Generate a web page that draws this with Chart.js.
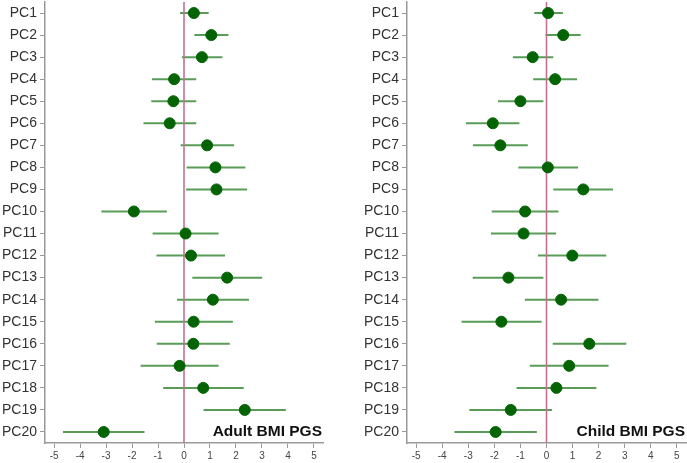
<!DOCTYPE html>
<html>
<head>
<meta charset="utf-8">
<script src="https://cdn.jsdelivr.net/npm/chart.js@4.4.1/dist/chart.umd.min.js"></script>
<style>
  body { margin: 0; background: #fff; }
  #wrap { position: relative; width: 687px; height: 463px; }
  .panel { position: absolute; top: 0; height: 463px; }
  #p1 { left: 0; width: 340px; }
  #p2 { left: 340px; width: 347px; }
</style>
</head>
<body>
<div id="wrap">
  <div class="panel" id="p1"><canvas id="adultChart"></canvas></div>
  <div class="panel" id="p2"><canvas id="childChart"></canvas></div>
</div>
<script>
// Categorías (componentes principales)
const pcs = ["PC1","PC2","PC3","PC4","PC5","PC6","PC7","PC8","PC9","PC10",
             "PC11","PC12","PC13","PC14","PC15","PC16","PC17","PC18","PC19","PC20"];
const xTicks = [-5,-4,-3,-2,-1,0,1,2,3,4,5];

// Adult BMI PGS: estimación e intervalo
const adultEst = [0.38,1.05,0.69,-0.38,-0.41,-0.55,0.89,1.21,1.25,-1.93,
                  0.06,0.27,1.66,1.11,0.37,0.36,-0.17,0.74,2.34,-3.09];
const adultLo  = [-0.15,0.40,-0.08,-1.23,-1.26,-1.56,-0.13,0.10,0.08,-3.18,
                  -1.21,-1.06,0.32,-0.27,-1.12,-1.05,-1.67,-0.80,0.75,-4.66];
const adultHi  = [0.95,1.71,1.48,0.47,0.47,0.47,1.93,2.36,2.43,-0.66,
                  1.33,1.58,3.01,2.50,1.88,1.76,1.33,2.30,3.92,-1.52];

// Child BMI PGS: estimación e intervalo
const childEst = [0.06,0.64,-0.53,0.33,-1.00,-2.06,-1.77,0.05,1.41,-0.82,
                  -0.88,0.99,-1.46,0.56,-1.73,1.64,0.87,0.38,-1.37,-1.95];
const childLo  = [-0.47,-0.04,-1.29,-0.51,-1.86,-3.09,-2.82,-1.08,0.26,-2.10,
                  -2.13,-0.33,-2.83,-0.83,-3.26,0.24,-0.64,-1.15,-2.96,-3.53];
const childHi  = [0.63,1.31,0.26,1.17,-0.12,-1.04,-0.72,1.21,2.55,0.46,
                  0.37,2.29,-0.12,1.99,-0.19,3.06,2.38,1.91,0.21,-0.37];

// Plugin: barras de error, línea en cero y título
const forestPlugin = {
    id: 'forest',
    beforeDatasetsDraw(chart, args, opts) {
        const ctx = chart.ctx;
        const x = chart.scales.x;
        const y = chart.scales.y;
        const area = chart.chartArea;
        ctx.save();
        // barras de error
        ctx.strokeStyle = 'rgba(70,145,70,0.9)';
        ctx.lineWidth = 2;
        opts.lo.forEach((lo, i) => {
            const py = y.getPixelForValue(i);
            ctx.beginPath();
            ctx.moveTo(x.getPixelForValue(lo), py);
            ctx.lineTo(x.getPixelForValue(opts.hi[i]), py);
            ctx.stroke();
        });
        // línea vertical en 0
        ctx.strokeStyle = '#c27290';
        ctx.lineWidth = 1.6;
        const x0 = x.getPixelForValue(0);
        ctx.beginPath();
        ctx.moveTo(x0, area.top);
        ctx.lineTo(x0, area.bottom);
        ctx.stroke();
        ctx.restore();
    },
    afterDraw(chart, args, opts) {
        const ctx = chart.ctx;
        const y = chart.scales.y;
        ctx.save();
        ctx.font = 'bold 15.5px "Liberation Sans", Arial, sans-serif';
        ctx.fillStyle = '#111';
        ctx.textAlign = 'right';
        ctx.textBaseline = 'middle';
        ctx.fillText(opts.title, chart.chartArea.right - 1, y.getPixelForValue(pcs.length - 1));
        ctx.restore();
    }
};

function makeChart(id, est, lo, hi, title, yWidth, padRight) {
    const ctx = document.getElementById(id).getContext('2d');
    return new Chart(ctx, {
        type: 'scatter',
        data: {
            labels: pcs,
            datasets: [{
                data: est.map((v, i) => ({ x: v, y: pcs[i] })),
                backgroundColor: '#046404',
                borderColor: '#046404',
                pointRadius: 5.5,
                pointHoverRadius: 5.5
            }]
        },
        options: {
            responsive: true,
            maintainAspectRatio: false,
            animation: false,
            layout: { autoPadding: false, padding: { top: 2, right: padRight, left: 0, bottom: 0 } },
            plugins: {
                legend: { display: false },
                tooltip: { enabled: false },
                forest: { lo: lo, hi: hi, title: title }
            },
            scales: {
                x: {
                    type: 'linear',
                    min: -5.35,
                    max: 5.35,
                    afterBuildTicks: (s) => { s.ticks = xTicks.map(v => ({ value: v })); },
                    afterFit: (s) => {
                        s.height = 20;
                        s.paddingLeft = 0; s.paddingRight = 0;
                        s.paddingTop = 0; s.paddingBottom = 0;
                    },
                    grid: { drawOnChartArea: false, drawTicks: true, tickLength: 5, color: '#999', lineWidth: 1 },
                    border: { color: '#999', width: 1.5 },
                    ticks: {
                        color: '#444',
                        font: { family: '"Liberation Sans", Arial, sans-serif', size: 10 },
                        padding: 2,
                        maxRotation: 0
                    }
                },
                y: {
                    type: 'category',
                    labels: pcs,
                    offset: true,
                    afterFit: (s) => {
                        s.width = yWidth;
                        s.paddingLeft = 0; s.paddingRight = 0;
                        s.paddingTop = 0; s.paddingBottom = 0;
                    },
                    grid: { drawOnChartArea: false, drawTicks: true, tickLength: 5, color: '#999', lineWidth: 1, offset: false },
                    border: { color: '#999', width: 1.5 },
                    ticks: {
                        color: '#333',
                        font: { family: '"Liberation Sans", Arial, sans-serif', size: 14 },
                        padding: 3,
                        autoSkip: false
                    }
                }
            }
        },
        plugins: [forestPlugin]
    });
}

makeChart('adultChart', adultEst, adultLo, adultHi, 'Adult BMI PGS', 45, 17);
makeChart('childChart', childEst, childLo, childHi, 'Child BMI PGS', 67, 1);
</script>
</body>
</html>
